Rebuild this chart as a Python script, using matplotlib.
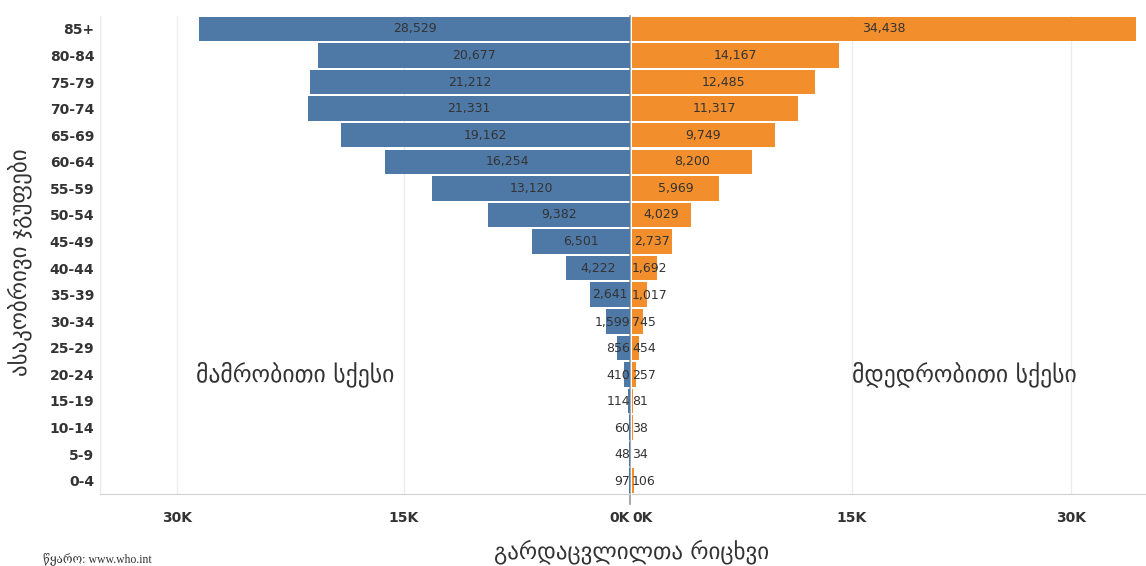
import matplotlib
matplotlib.use("Agg")
import matplotlib.pyplot as plt
from matplotlib.ticker import FixedLocator

age_groups = ["85+", "80-84", "75-79", "70-74", "65-69", "60-64", "55-59", "50-54",
              "45-49", "40-44", "35-39", "30-34", "25-29", "20-24", "15-19", "10-14",
              "5-9", "0-4"]
male = [28529, 20677, 21212, 21331, 19162, 16254, 13120, 9382, 6501, 4222, 2641,
        1599, 856, 410, 114, 60, 48, 97]
female = [34438, 14167, 12485, 11317, 9749, 8200, 5969, 4029, 2737, 1692, 1017,
          745, 454, 257, 81, 38, 34, 106]
x_ticks = [0, 15000, 30000]
x_ticklabels = ["0K", "15K", "30K"]

BLUE = "#4e79a7"
ORANGE = "#f28e2b"
TXT = "#333333"
plt.rcParams['font.family'] = ['DejaVu Sans']

W, H = 1146, 566
fig = plt.figure(figsize=(W / 100, H / 100), dpi=100)

def fx(px):
    return px / W

def fy(py):
    return 1 - py / H

top, bottom = 15.7, 494
xmax = 35100
axL = fig.add_axes([fx(100), fy(bottom), fx(630 - 100), fy(top) - fy(bottom)])
axR = fig.add_axes([fx(632), fy(bottom), fx(1146 - 632), fy(top) - fy(bottom)])

n = len(age_groups)
ypos = list(range(n))

def style(ax, left):
    ax.set_ylim(n - 0.5, -0.5)
    if left:
        ax.set_xlim(xmax, 0)
    else:
        ax.set_xlim(0, xmax)
    for s in ax.spines.values():
        s.set_visible(False)
    ax.spines['bottom'].set_visible(True)
    ax.spines['bottom'].set_color("#d0d0d0")
    ax.xaxis.set_major_locator(FixedLocator(x_ticks))
    labels = ax.set_xticklabels(x_ticklabels, fontsize=10, fontweight='bold', color=TXT)
    labels[0].set_ha('right' if left else 'left')
    ax.tick_params(axis='x', length=0, pad=12)
    for t in [15000, 30000]:
        ax.axvline(t, color="#ececec", lw=0.9, zorder=0)

style(axL, True)
style(axR, False)

axL.set_yticks(ypos)
axL.set_yticklabels(age_groups, fontsize=10, fontweight='bold', color=TXT)
axL.tick_params(axis='y', length=0, pad=4)
axR.set_yticks([])
axL.axvline(xmax, color="#e6e6e6", lw=0.9, zorder=0)
axL.axvline(0, color="#9a9a9a", lw=1.2, zorder=0.5, ymin=-0.02, clip_on=False)

axL.barh(ypos, male, height=0.92, color=BLUE, zorder=2)
axR.barh(ypos, female, height=0.92, color=ORANGE, zorder=2)

def label(ax, vals, px_per_unit, left):
    for i, v in enumerate(vals):
        s = f"{v:,}"
        w = len(s) * 7.4 / px_per_unit
        if v / 2 - w / 2 > 0:
            ax.text(v / 2, i, s, ha='center', va='center', fontsize=9, color=TXT, zorder=3)
        else:
            ax.text(0, i + 0.03, s, ha=('right' if left else 'left'), va='center',
                    fontsize=9, color=TXT, zorder=3)

label(axL, male, 530 / xmax, True)
label(axR, female, 514 / xmax, False)

fig.text(fx(295), fy(374), "მამრობითი სქესი", ha='center', va='center', fontsize=17, color=TXT)
fig.text(fx(964), fy(374), "მდედრობითი სქესი", ha='center', va='center', fontsize=17, color=TXT)
fig.text(fx(632), fy(552), "გარდაცვლილთა რიცხვი", ha='center', va='center', fontsize=16.5, color=TXT)
fig.text(fx(20), fy(262), "ასაკობრივი ჯგუფები", ha='center', va='center', rotation=90,
         fontsize=16.5, color=TXT)
fig.text(fx(43), fy(560), "წყარო: www.who.int", ha='left', va='center', fontsize=8.5,
         color=TXT, family=['Liberation Serif', 'DejaVu Serif', 'DejaVu Sans'])

fig.savefig("out.png", dpi=100)
